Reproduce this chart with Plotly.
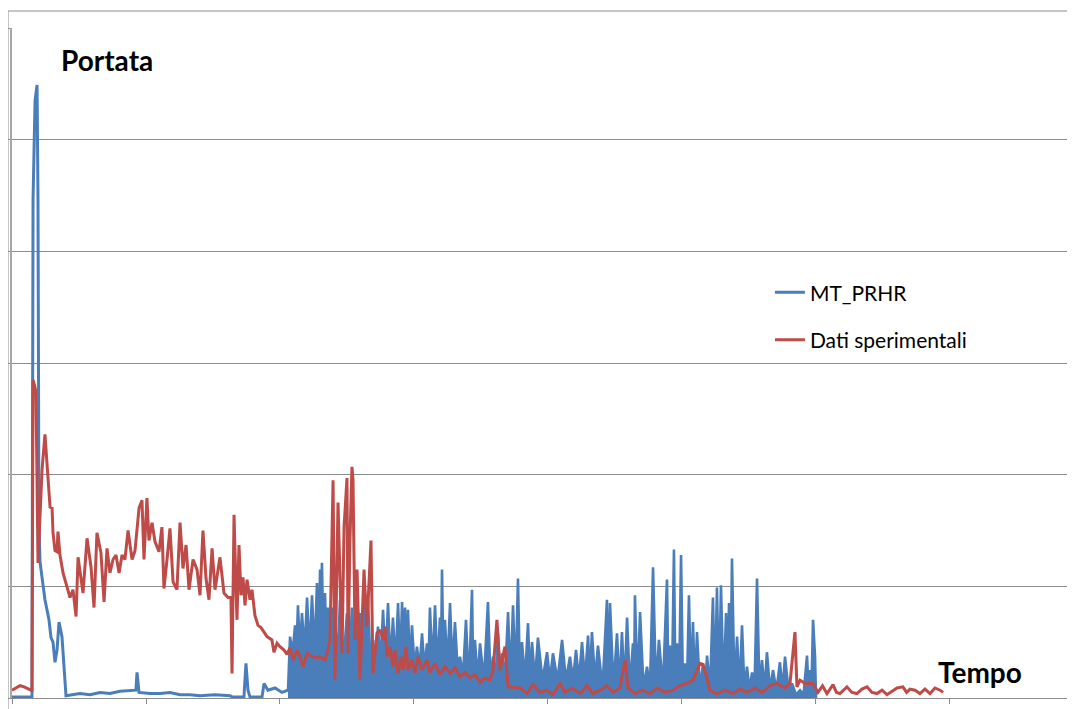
import plotly.graph_objects as go

# ---------------- data (time in s, flow in arbitrary units) ----------------
# MT_PRHR : initial transient (line)
blue_t1 = [0, 149, 157, 172, 187, 194, 201, 209, 224, 246, 276, 291, 306, 321, 336, 351, 373, 388,
           403, 507, 582, 657, 731, 806, 881, 925, 933, 948, 1030, 1105, 1179, 1254, 1328, 1403,
           1515, 1627, 1642, 1731, 1746, 1761, 1776, 1866, 1881, 1910, 1963, 2015, 2060]
blue_v1 = [0.01, 0.01, 4.46, 5.35, 5.49, 4.46, 1.59, 1.22, 1.08, 0.88, 0.70, 0.54, 0.50, 0.32, 0.43,
           0.68, 0.55, 0.25, 0.02, 0.04, 0.03, 0.05, 0.04, 0.06, 0.07, 0.07, 0.23, 0.05, 0.04, 0.04,
           0.05, 0.03, 0.03, 0.02, 0.03, 0.02, 0.01, 0.01, 0.31, 0.07, 0.01, 0.01, 0.13, 0.07, 0.09,
           0.05, 0.07]

# MT_PRHR : oscillating part (peaks / troughs)
blue_t2 = [2060, 2075, 2094, 2112, 2123, 2134, 2149, 2164, 2183, 2202, 2220, 2239, 2258, 2276, 2288,
           2299, 2306, 2313, 2325, 2336, 2347, 2358, 2377, 2396, 2403, 2410, 2429, 2448, 2474, 2500,
           2518, 2537, 2556, 2575, 2586, 2597, 2616, 2634, 2646, 2657, 2675, 2694, 2713, 2731, 2750,
           2769, 2788, 2806, 2825, 2843, 2862, 2881, 2896, 2911, 2922, 2933, 2944, 2955, 2970, 2985,
           3004, 3022, 3041, 3060, 3078, 3097, 3108, 3119, 3138, 3157, 3175, 3194, 3201, 3209, 3220,
           3231, 3250, 3269, 3287, 3306, 3325, 3343, 3366, 3388, 3410, 3433, 3444, 3455, 3474, 3493,
           3522, 3552, 3571, 3590, 3608, 3627, 3642, 3657, 3679, 3702, 3720, 3739, 3758, 3776, 3791,
           3806, 3828, 3851, 3866, 3881, 3903, 3925, 3959, 3993, 4015, 4037, 4071, 4105, 4134, 4164,
           4187, 4209, 4231, 4254, 4276, 4299, 4313, 4328, 4351, 4373, 4407, 4440, 4451, 4463, 4489,
           4515, 4534, 4552, 4571, 4590, 4612, 4634, 4642, 4649, 4668, 4687, 4713, 4739, 4761, 4784,
           4806, 4828, 4858, 4888, 4899, 4911, 4925, 4940, 4951, 4963, 4978, 4993, 5007, 5022, 5037,
           5052, 5067, 5082, 5097, 5112, 5134, 5157, 5172, 5187, 5209, 5231, 5246, 5261, 5276, 5291,
           5310, 5329, 5340, 5351, 5362, 5373, 5392, 5411, 5429, 5448, 5466, 5485, 5504, 5523, 5541,
           5560, 5578, 5597, 5616, 5634, 5657, 5679, 5705, 5731, 5750, 5769, 5795, 5821, 5851, 5881,
           5907, 5933, 5944, 5955, 5966, 5978, 5993, 6000]
blue_v2 = [0.07, 0.55, 0.40, 0.65, 0.42, 0.83, 0.42, 0.76, 0.42, 0.90, 0.40, 0.92, 0.40, 1.03, 0.42,
           1.15, 0.60, 1.21, 0.42, 0.94, 0.38, 0.81, 0.32, 0.81, 0.32, 0.73, 0.32, 0.88, 0.32, 0.76,
           0.32, 0.81, 0.32, 0.76, 0.32, 0.76, 0.32, 0.90, 0.32, 0.88, 0.30, 0.52, 0.30, 0.64, 0.30,
           0.79, 0.30, 0.85, 0.30, 0.72, 0.30, 0.85, 0.30, 0.86, 0.30, 0.81, 0.27, 0.79, 0.27, 0.65,
           0.27, 0.46, 0.27, 0.58, 0.27, 0.49, 0.27, 0.81, 0.27, 0.83, 0.27, 0.72, 0.27, 1.15, 0.27,
           0.70, 0.27, 0.85, 0.27, 0.68, 0.27, 0.37, 0.20, 0.70, 0.10, 0.97, 0.01, 0.52, 0.16, 0.49,
           0.16, 0.86, 0.16, 0.37, 0.16, 0.58, 0.16, 0.40, 0.16, 0.77, 0.16, 0.83, 0.16, 1.07, 0.16,
           0.50, 0.16, 0.67, 0.16, 0.50, 0.16, 0.54, 0.16, 0.41, 0.16, 0.40, 0.16, 0.52, 0.16, 0.37,
           0.16, 0.43, 0.16, 0.50, 0.16, 0.56, 0.16, 0.59, 0.16, 0.47, 0.09, 0.88, 0.09, 0.85, 0.09,
           0.58, 0.09, 0.59, 0.09, 0.72, 0.09, 0.49, 0.09, 0.92, 0.09, 0.77, 0.09, 0.28, 0.09, 1.17,
           0.09, 0.52, 0.09, 1.06, 0.09, 0.47, 0.09, 1.33, 0.09, 0.49, 0.09, 1.28, 0.09, 0.31, 0.09,
           0.92, 0.09, 0.68, 0.09, 0.59, 0.07, 0.31, 0.07, 0.38, 0.07, 0.90, 0.07, 0.99, 0.07, 1.01,
           0.07, 0.76, 0.07, 0.85, 0.07, 1.25, 0.07, 0.55, 0.07, 0.65, 0.07, 0.28, 0.07, 0.23, 0.07,
           1.07, 0.07, 0.34, 0.07, 0.41, 0.07, 0.25, 0.07, 0.32, 0.07, 0.37, 0.07, 0.13, 0.03, 0.07,
           0.03, 0.38, 0.07, 0.25, 0.07, 0.70, 0.37, 0.00]

# Dati sperimentali
red_t = [0, 30, 60, 90, 119, 142, 149, 157, 172, 179, 194, 224, 246, 284, 299, 306, 321, 336, 343,
         358, 381, 410, 433, 455, 478, 493, 515, 530, 560, 590, 612, 634, 664, 687, 709, 731, 754,
         776, 799, 821, 843, 866, 896, 918, 948, 970, 985, 1007, 1022, 1045, 1067, 1097, 1119, 1134,
         1157, 1179, 1202, 1231, 1254, 1276, 1299, 1321, 1351, 1381, 1403, 1425, 1448, 1470, 1493,
         1515, 1552, 1582, 1612, 1634, 1642, 1649, 1657, 1672, 1679, 1694, 1709, 1724, 1739, 1754,
         1776, 1791, 1813, 1836, 1858, 1881, 1903, 1940, 1955, 1978, 2000, 2030, 2052, 2075, 2097,
         2127, 2149, 2172, 2202, 2239, 2276, 2299, 2336, 2358, 2373, 2396, 2410, 2433, 2463, 2478,
         2500, 2508, 2522, 2537, 2545, 2560, 2575, 2597, 2627, 2649, 2679, 2694, 2724, 2746, 2769,
         2784, 2799, 2821, 2843, 2858, 2881, 2903, 2918, 2940, 2955, 2985, 3008, 3030, 3060, 3097,
         3119, 3157, 3194, 3231, 3269, 3306, 3343, 3381, 3418, 3455, 3493, 3530, 3567, 3590, 3619,
         3642, 3679, 3702, 3791, 3843, 3888, 3940, 3993, 4037, 4090, 4127, 4179, 4239, 4291, 4336,
         4388, 4440, 4485, 4537, 4575, 4597, 4649, 4702, 4761, 4814, 4873, 4933, 4985, 5037, 5082,
         5134, 5157, 5179, 5209, 5261, 5321, 5381, 5433, 5485, 5545, 5597, 5657, 5709, 5769, 5806,
         5843, 5858, 5881, 5918, 5978, 6015, 6049, 6082, 6127, 6153, 6179, 6231, 6268, 6306, 6343,
         6381, 6418, 6455, 6493, 6530, 6567, 6605, 6649, 6676, 6702, 6739, 6776, 6813, 6851, 6888,
         6926, 6948]
red_v = [0.07, 0.09, 0.11, 0.10, 0.08, 0.07, 0.07, 2.85, 2.78, 2.74, 1.21, 2.04, 2.36, 1.71, 1.70,
         1.48, 1.32, 1.31, 1.49, 1.28, 1.12, 0.99, 0.90, 0.97, 0.73, 1.26, 1.06, 0.94, 1.43, 1.17,
         0.81, 1.48, 1.30, 0.86, 1.34, 1.12, 1.24, 1.28, 1.12, 1.28, 1.24, 1.50, 1.24, 1.32, 1.70,
         1.77, 1.24, 1.79, 1.41, 1.57, 1.40, 1.31, 1.53, 0.98, 1.24, 1.52, 1.04, 0.97, 1.57, 1.16,
         1.37, 0.97, 1.24, 1.15, 0.92, 1.50, 1.07, 0.88, 1.34, 0.97, 1.26, 0.94, 0.90, 0.90, 0.22,
         0.88, 1.64, 0.97, 0.70, 1.37, 0.92, 1.08, 0.83, 1.06, 0.88, 0.97, 0.74, 0.65, 0.63, 0.59,
         0.55, 0.52, 0.41, 0.49, 0.46, 0.43, 0.39, 0.45, 0.34, 0.43, 0.37, 0.28, 0.40, 0.37, 0.36,
         0.37, 0.34, 0.43, 0.52, 1.95, 0.16, 1.75, 0.40, 1.53, 1.97, 0.40, 1.41, 2.07, 1.95, 0.52,
         1.15, 0.16, 1.15, 0.64, 1.41, 0.22, 0.58, 0.61, 0.52, 0.64, 0.37, 0.46, 0.28, 0.43, 0.22,
         0.37, 0.25, 0.46, 0.25, 0.34, 0.22, 0.37, 0.25, 0.34, 0.23, 0.31, 0.21, 0.28, 0.22, 0.27,
         0.19, 0.23, 0.18, 0.21, 0.14, 0.18, 0.16, 0.25, 0.70, 0.25, 0.46, 0.10, 0.09, 0.04, 0.12,
         0.05, 0.07, 0.03, 0.13, 0.05, 0.09, 0.04, 0.11, 0.04, 0.07, 0.11, 0.05, 0.09, 0.34, 0.09,
         0.04, 0.07, 0.04, 0.09, 0.05, 0.07, 0.11, 0.13, 0.16, 0.31, 0.30, 0.21, 0.07, 0.04, 0.07,
         0.04, 0.08, 0.05, 0.09, 0.05, 0.11, 0.13, 0.09, 0.13, 0.59, 0.10, 0.16, 0.13, 0.13, 0.05,
         0.11, 0.04, 0.12, 0.05, 0.04, 0.10, 0.05, 0.04, 0.08, 0.10, 0.05, 0.04, 0.07, 0.03, 0.06,
         0.09, 0.10, 0.05, 0.08, 0.07, 0.04, 0.08, 0.04, 0.09, 0.07, 0.05]

series_names = ["MT_PRHR", "Dati sperimentali"]
y_title = "Portata"
x_title = "Tempo"

BLUE = "#4A7EBB"
RED = "#BE4B48"
GRID = "#8C8C8C"
FONT = "Lato, 'Liberation Sans', sans-serif"

fig = go.Figure()
fig.add_trace(go.Scatter(x=blue_t1, y=blue_v1, mode="lines", name=series_names[0],
                         legendgroup="a", line=dict(color=BLUE, width=3)))
fig.add_trace(go.Scatter(x=blue_t2, y=blue_v2, mode="lines", name=series_names[0],
                         legendgroup="a", showlegend=False, fill="tozeroy", fillcolor=BLUE,
                         line=dict(color=BLUE, width=2.6)))
fig.add_trace(go.Scatter(x=red_t, y=red_v, mode="lines", name=series_names[1],
                         legendgroup="b", line=dict(color=RED, width=3)))

# page body has an 8px margin: figure is sized/placed so the plot area lands at
# x 12..1075, y 28..698 of the window
fig.update_layout(
    width=1067, height=701,
    margin=dict(l=4, r=0, t=20, b=11),
    paper_bgcolor="white", plot_bgcolor="white",
    showlegend=True,
    legend=dict(x=0.713, y=0.6355, xanchor="left", yanchor="top",
                font=dict(family=FONT, size=21, color="#000000"),
                traceorder="grouped", tracegroupgap=17, itemwidth=30,
                bgcolor="rgba(0,0,0,0)"),
    font=dict(family=FONT),
)
fig.update_xaxes(range=[0, 7933], dtick=1000, tick0=0, showgrid=False, zeroline=False,
                 showline=True, linecolor=GRID, linewidth=1, ticks="outside", ticklen=5,
                 tickcolor=GRID, showticklabels=False)
fig.update_yaxes(range=[0, 6], dtick=1, tick0=0, showgrid=True, gridcolor=GRID, gridwidth=1,
                 zeroline=False, showline=True, linecolor="#A6A6A6", linewidth=1.5,
                 ticks="outside", ticklen=4, tickcolor=GRID, showticklabels=False)

# outer chart-area border
fig.add_shape(type="rect", xref="paper", yref="paper", x0=-4 / 1063, x1=1.02,
              y0=-0.05, y1=(690 - 3) / 670, line=dict(color=GRID, width=1), layer="below")

fig.add_annotation(text="<b>" + y_title + "</b>", xref="paper", yref="paper",
                   x=0.0894, y=0.952, xanchor="center", yanchor="middle", showarrow=False,
                   font=dict(family=FONT, size=28, color="#000000"))
fig.add_annotation(text="<b>" + x_title + "</b>", xref="paper", yref="paper",
                   x=0.911, y=0.039, xanchor="center", yanchor="middle", showarrow=False,
                   font=dict(family=FONT, size=28, color="#000000"))

fig.write_html("out.html")
